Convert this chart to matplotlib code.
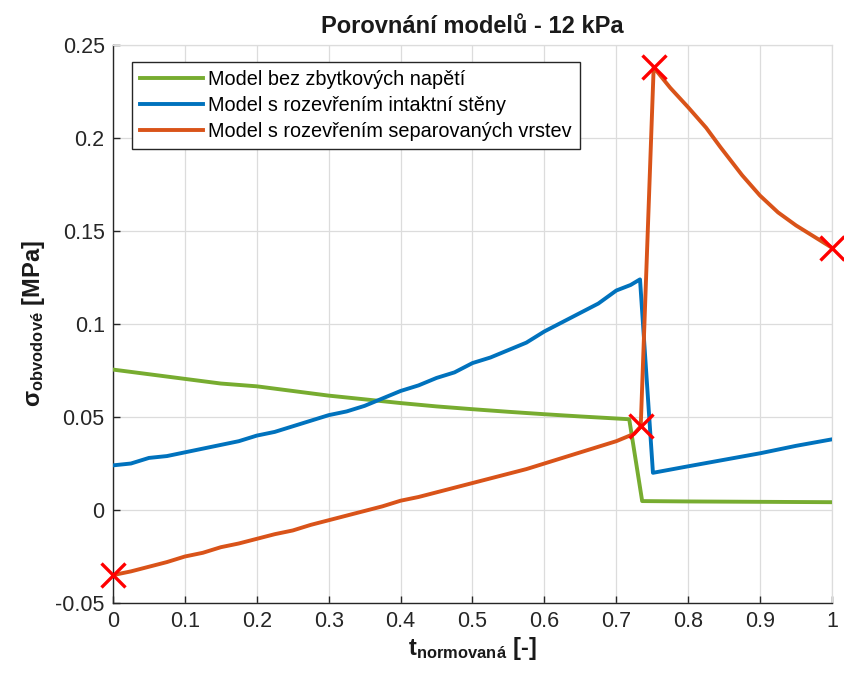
import matplotlib
matplotlib.use("Agg")
import matplotlib.pyplot as plt

base = 'Liberation Sans'
plt.rcParams['font.family'] = [base, 'DejaVu Sans']
plt.rcParams['mathtext.fontset'] = 'custom'
plt.rcParams['mathtext.rm'] = base
plt.rcParams['mathtext.bf'] = base + ':bold'
plt.rcParams['mathtext.it'] = base + ':italic'

title = "Porovnání modelů - 12 kPa"
labels = ["Model bez zbytkových napětí",
          "Model s rozevřením intaktní stěny",
          "Model s rozevřením separovaných vrstev"]

green_x = [0, 0.05, 0.1, 0.15, 0.2, 0.25, 0.3, 0.35, 0.4, 0.45, 0.5, 0.55, 0.6, 0.65, 0.7, 0.718,
           0.736, 0.8, 0.9, 1.0]
green_y = [0.0755, 0.073, 0.0705, 0.068, 0.0665, 0.064, 0.0615, 0.0595, 0.0575, 0.0557, 0.0542,
           0.0528, 0.0515, 0.0503, 0.0492, 0.0488, 0.0048, 0.0046, 0.0044, 0.0042]

blue_x = [0, 0.025, 0.05, 0.075, 0.1, 0.125, 0.15, 0.175, 0.2, 0.225, 0.25, 0.275, 0.3, 0.325,
          0.35, 0.375, 0.4, 0.425, 0.45, 0.475, 0.5, 0.525, 0.55, 0.575, 0.6, 0.625, 0.65, 0.675,
          0.7, 0.72, 0.733, 0.751, 0.8, 0.85, 0.9, 0.95, 1.0]
blue_y = [0.024, 0.025, 0.028, 0.029, 0.031, 0.033, 0.035, 0.037, 0.040, 0.042, 0.045, 0.048,
          0.051, 0.053, 0.056, 0.060, 0.064, 0.067, 0.071, 0.074, 0.079, 0.082, 0.086, 0.090,
          0.096, 0.101, 0.106, 0.111, 0.118, 0.121, 0.124, 0.020, 0.0235, 0.027, 0.0305,
          0.0345, 0.038]

orange_x = [0, 0.025, 0.05, 0.075, 0.1, 0.125, 0.15, 0.175, 0.2, 0.225, 0.25, 0.275, 0.3, 0.325,
            0.35, 0.375, 0.4, 0.425, 0.45, 0.475, 0.5, 0.525, 0.55, 0.575, 0.6, 0.625, 0.65, 0.675,
            0.7, 0.725, 0.734, 0.752, 0.775, 0.8, 0.825, 0.845, 0.875, 0.9, 0.925, 0.95, 0.975, 1.0]
orange_y = [-0.035, -0.033, -0.0305, -0.028, -0.025, -0.023, -0.020, -0.018, -0.0155, -0.013,
            -0.011, -0.008, -0.0055, -0.003, -0.0005, 0.002, 0.005, 0.007, 0.0095, 0.012, 0.0145,
            0.017, 0.0195, 0.022, 0.025, 0.028, 0.031, 0.034, 0.037, 0.041, 0.045, 0.238, 0.227,
            0.2165, 0.2055, 0.195, 0.180, 0.169, 0.160, 0.153, 0.147, 0.141]

marker_x = [0, 0.734, 0.752, 1.0]
marker_y = [-0.035, 0.045, 0.238, 0.141]

xticks = [0, 0.1, 0.2, 0.3, 0.4, 0.5, 0.6, 0.7, 0.8, 0.9, 1]
xticklabels = ["0", "0.1", "0.2", "0.3", "0.4", "0.5", "0.6", "0.7", "0.8", "0.9", "1"]
yticks = [-0.05, 0, 0.05, 0.1, 0.15, 0.2, 0.25]
yticklabels = ["-0.05", "0", "0.05", "0.1", "0.15", "0.2", "0.25"]

fig = plt.figure(figsize=(8.45, 6.77), dpi=100)
ax = fig.add_axes([0.1337, 0.1093, 0.8509, 0.8242])

lw = 2.8
ax.plot(green_x, green_y, color='#77AC30', lw=lw, label=labels[0], zorder=3)
ax.plot(blue_x, blue_y, color='#0072BD', lw=lw, label=labels[1], zorder=3)
ax.plot(orange_x, orange_y, color='#D95319', lw=lw, label=labels[2], zorder=3)
ax.plot(marker_x, marker_y, linestyle='none', marker='x', color='#FF0000',
        markersize=17, markeredgewidth=2.4, zorder=4, clip_on=False)

ax.set_xlim(0, 1)
ax.set_ylim(-0.05, 0.25)
ax.set_xticks(xticks)
ax.set_xticklabels(xticklabels)
ax.set_yticks(yticks)
ax.set_yticklabels(yticklabels)
ax.tick_params(direction='in', length=5, width=1, labelsize=15.5, colors='#262626', pad=6)
ax.grid(True, color='#DCDCDC', lw=0.9)
ax.set_axisbelow(True)
for s in ['left', 'bottom']:
    ax.spines[s].set_color('#262626')
    ax.spines[s].set_linewidth(1.0)
for s in ['top', 'right']:
    ax.spines[s].set_color('#DCDCDC')
    ax.spines[s].set_linewidth(0.9)

ax.set_title(title, fontsize=17, fontweight='bold', pad=9, color='#1a1a1a')
ax.set_xlabel(r'$\mathbf{t}_{\mathbf{normovaná}}$ [-]', fontsize=17, fontweight='bold',
              labelpad=2, color='#1a1a1a')
ax.set_ylabel(r'$\mathbf{\sigma}_{\mathbf{obvodové}}$ [MPa]', fontsize=17, fontweight='bold',
              labelpad=6, color='#1a1a1a')

leg = ax.legend(loc='upper left', bbox_to_anchor=(0.026, 0.97), fontsize=14.3,
                handlelength=3.2, handletextpad=0.25, borderpad=0.4, labelspacing=0.35,
                borderaxespad=0, fancybox=False, framealpha=1, edgecolor='#262626')
leg.get_frame().set_linewidth(1.0)

fig.savefig('out.png', dpi=100)
